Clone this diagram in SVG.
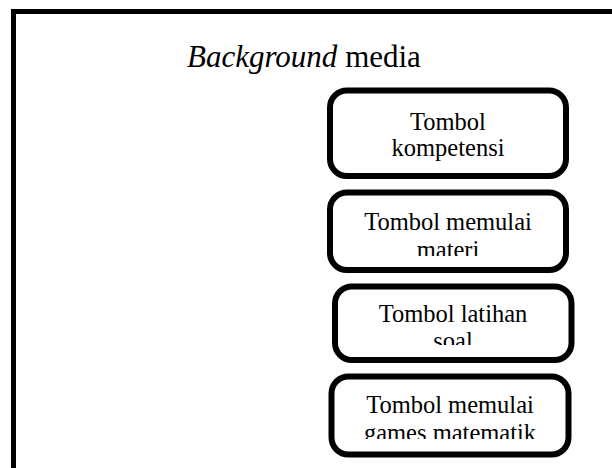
<svg xmlns="http://www.w3.org/2000/svg" width="612" height="468" viewBox="0 0 612 468">
  <style>
    .frame { fill: #ffffff; stroke: #000000; stroke-width: 5; }
    .btn { fill: #ffffff; stroke: #000000; stroke-width: 6; }
    .lbl { font-family: "Liberation Serif", "Times New Roman", serif; font-size: 24.5px; fill: #000000; text-anchor: middle; }
    .title { font-family: "Liberation Serif", "Times New Roman", serif; font-size: 31px; fill: #000000; }
  </style>
  <defs>
    <clipPath id="c1"><rect x="330" y="90" width="236" height="84"/></clipPath>
    <clipPath id="c2"><rect x="330" y="192" width="236" height="64"/></clipPath>
    <clipPath id="c3"><rect x="335" y="286" width="236" height="59"/></clipPath>
    <clipPath id="c4"><rect x="331" y="376" width="238" height="63"/></clipPath>
  </defs>
  <rect width="612" height="468" fill="#ffffff"/>
  <g id="background">
    <rect class="frame" x="13.5" y="11.5" width="640" height="500"/>
    <text class="title" x="187" y="67"><tspan font-style="italic">Background</tspan> media</text>
  </g>
  <g id="connectors"></g>
  <g id="tombol-kompetensi">
    <rect class="btn" x="330" y="90.5" width="236" height="85.5" rx="17"/>
    <g clip-path="url(#c1)">
      <text class="lbl" x="448" y="130">Tombol</text>
      <text class="lbl" x="448" y="156">kompetensi</text>
    </g>
  </g>
  <g id="tombol-materi">
    <rect class="btn" x="330" y="192.5" width="236" height="77.5" rx="17"/>
    <g clip-path="url(#c2)">
      <text class="lbl" x="448" y="230">Tombol memulai</text>
      <text class="lbl" x="448" y="258">materi</text>
    </g>
  </g>
  <g id="tombol-latihan">
    <rect class="btn" x="335" y="286.5" width="236.5" height="73.5" rx="17"/>
    <g clip-path="url(#c3)">
      <text class="lbl" x="453" y="322">Tombol latihan</text>
      <text class="lbl" x="453" y="349">soal</text>
    </g>
  </g>
  <g id="tombol-games">
    <rect class="btn" x="331.5" y="376.5" width="237" height="78" rx="17"/>
    <g clip-path="url(#c4)">
      <text class="lbl" x="450" y="413">Tombol memulai</text>
      <text class="lbl" x="450" y="441">games matematik</text>
    </g>
  </g>
</svg>
